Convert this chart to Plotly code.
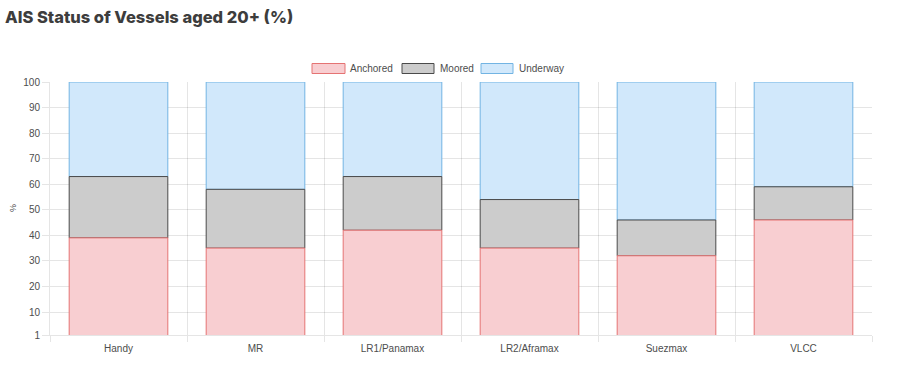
import plotly.graph_objects as go

categories = ["Handy", "MR", "LR1/Panamax", "LR2/Aframax", "Suezmax", "VLCC"]
anchored = [39, 35, 42, 35, 32, 46]
moored = [24, 23, 21, 19, 14, 13]
underway = [37, 42, 37, 46, 54, 41]
series_names = ["Anchored", "Moored", "Underway"]
y_ticks = [1, 10, 20, 30, 40, 50, 60, 70, 80, 90, 100]

fills = ["rgba(248,206,209,1)", "rgba(204,204,204,1)", "rgba(209,232,251,1)"]
borders = ["#e57373", "#4a4a4a", "#72b4e3"]

W, H = 906, 372
ML, MR, MT, MB = 50, 34, 82, 37
PW, PH = W - ML - MR, H - MT - MB

def px_x(x):
    return (x - ML) / PW

def px_y(y):
    return (H - MB - y) / PH

series = [anchored, moored, underway]
bases = []
running = [0] * len(categories)
for vals in series:
    bases.append(list(running))
    running = [r + v for r, v in zip(running, vals)]

fig = go.Figure()
# draw top series first so lower segments' top borders stay visible (Chart.js style)
for i in reversed(range(len(series))):
    fig.add_trace(go.Bar(
        x=categories, y=series[i], base=bases[i], name=series_names[i],
        marker=dict(color=fills[i], line=dict(color=borders[i], width=1)),
        showlegend=False, width=0.72,
    ))

font_family = "Liberation Sans, Arial, sans-serif"
grid = "rgba(0,0,0,0.1)"
txt = "#4d4d4d"

fig.update_layout(
    width=W, height=H,
    barmode="overlay",
    margin=dict(l=ML, r=MR, t=MT, b=MB, autoexpand=False),
    plot_bgcolor="white", paper_bgcolor="white",
    font=dict(family=font_family, color=txt, size=10),
    title=dict(
        text="AIS Status of Vessels aged 20+ (%)",
        x=5 / W, xanchor="left", y=1 - 17 / H, yanchor="middle",
        font=dict(family="Inter, sans-serif", size=16.5, color="#3d3d3d", weight=800),
    ),
    xaxis=dict(
        type="category", tickson="boundaries", ticks="outside", ticklen=6,
        tickcolor=grid, showgrid=True, gridcolor=grid, gridwidth=1,
        showline=True, linecolor=grid, mirror=False, automargin=False,
        tickfont=dict(family=font_family, size=10, color=txt),
        ticklabelstandoff=4,
        range=[-0.5, 5.5],
    ),
    yaxis=dict(
        range=[1, 100], tickvals=y_ticks, ticks="outside", ticklen=7,
        tickcolor=grid, showgrid=True, gridcolor=grid, gridwidth=1,
        showline=True, linecolor=grid, zeroline=False, automargin=False,
        tickfont=dict(family=font_family, size=10, color=txt),
    ),
)

fig.add_annotation(xref="paper", yref="paper", x=px_x(13), y=px_y(208),
                   xanchor="center", yanchor="middle", showarrow=False,
                   text="%", textangle=-90,
                   font=dict(family=font_family, size=9, color=txt))

# custom legend (Chart.js style wide boxes)
legend_items = [(312, 345, 350), (402, 434, 440), (481, 513, 519)]
for (x0, x1, tx), name, fc, bc in zip(legend_items, series_names, fills, borders):
    fig.add_shape(type="rect", xref="paper", yref="paper",
                  x0=px_x(x0), x1=px_x(x1), y0=px_y(73.5), y1=px_y(63.5),
                  fillcolor=fc, line=dict(color=bc, width=1))
    fig.add_annotation(xref="paper", yref="paper", x=px_x(tx) - 2 / PW, y=px_y(68),
                       xanchor="left", yanchor="middle", showarrow=False,
                       text=name,
                       font=dict(family=font_family, size=10, color=txt))

fig.write_html("out.html", config={"displayModeBar": False},
               post_script="document.body.style.margin='0';")
